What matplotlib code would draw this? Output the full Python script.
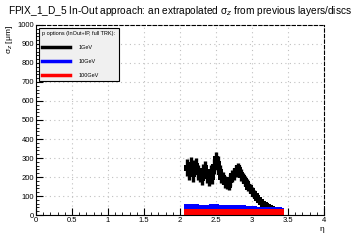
import numpy as np
import matplotlib.pyplot as plt
from matplotlib.ticker import MultipleLocator
from matplotlib.lines import Line2D

plt.rcParams['font.family'] = ['Liberation Sans', 'DejaVu Sans']

# eta bins
eta = [2.1 + 0.025 * i for i in range(53)]

# sigma_z valori (um)
sig_1gev = [250, 230, 265, 215, 245, 260, 225, 210, 195, 230,
            245, 205, 190, 225, 200, 255, 295, 270, 225, 200,
            195, 175, 165, 160, 185, 205, 215, 230, 245, 235,
            210, 195, 180, 165, 150, 140, 125, 110, 98, 88,
            78, 68, 60, 52, 45, 40, 35, 30, 27, 25,
            22, 21, 20]
err_1gev = [45, 45, 42, 42, 42, 40, 40, 38, 36, 38,
            38, 36, 36, 36, 36, 38, 36, 38, 36, 34,
            34, 32, 30, 30, 32, 32, 32, 32, 30, 30,
            30, 28, 26, 26, 24, 24, 22, 20, 18, 16,
            15, 13, 12, 11, 10, 9, 8, 7, 6, 5,
            5, 4, 4]
sig_10gev = [40, 42, 42, 41, 40, 40, 39, 38, 38, 38,
             38, 37, 38, 39, 40, 42, 40, 38, 37, 36,
             35, 35, 34, 34, 35, 36, 37, 38, 37, 36,
             35, 35, 34, 33, 32, 31, 30, 30, 29, 29,
             28, 28, 27, 27, 26, 26, 25, 25, 25, 24,
             24, 24, 23]
err_10gev = [9, 9, 9, 9, 8, 8, 8, 8, 8, 8,
             8, 8, 8, 8, 8, 8, 8, 8, 7, 7,
             7, 7, 7, 7, 7, 7, 7, 7, 7, 7,
             7, 6, 6, 6, 6, 6, 6, 6, 6, 6,
             6, 6, 6, 6, 6, 6, 6, 6, 6, 6,
             6, 6, 6]
sig_100gev = [18, 18, 18, 18, 18, 18, 18, 18, 18, 18,
              18, 18, 18, 18, 18, 18, 18, 18, 18, 18,
              18, 18, 18, 18, 18, 18, 18, 18, 18, 18,
              18, 17, 17, 17, 17, 17, 17, 17, 17, 17,
              17, 17, 17, 17, 17, 17, 17, 17, 17, 17,
              16, 16, 16]
err_100gev = [12, 12, 12, 12, 12, 12, 12, 12, 12, 12,
              11, 11, 11, 11, 11, 11, 11, 11, 11, 11,
              11, 11, 11, 11, 11, 11, 11, 11, 11, 11,
              11, 11, 11, 11, 11, 11, 11, 11, 11, 11,
              11, 11, 11, 11, 11, 11, 11, 11, 11, 11,
              11, 11, 11]

labels = ['1GeV', '10GeV', '100GeV']
colori = ['black', 'blue', 'red']

fig = plt.figure(figsize=(3.6, 2.4), dpi=100)
ax = fig.add_axes([0.1, 0.104, 0.8, 0.792])

serie = [(sig_1gev, err_1gev), (sig_10gev, err_10gev), (sig_100gev, err_100gev)]
for (s, e), c in zip(serie, colori):
    ax.errorbar(eta, s, yerr=e, xerr=0.0125, fmt='s', color=c, ms=4,
                elinewidth=2.4, capsize=0, mew=0)

ax.set_xlim(0, 4)
ax.set_ylim(0, 1000)
ax.xaxis.set_major_locator(MultipleLocator(0.5))
ax.xaxis.set_minor_locator(MultipleLocator(0.1))
ax.yaxis.set_major_locator(MultipleLocator(100))
ax.yaxis.set_minor_locator(MultipleLocator(20))
ax.tick_params(which='both', direction='in', labelsize=5.5, top=False, right=False, pad=1.5)
ax.tick_params(which='major', length=5)
ax.tick_params(which='minor', length=2.5)
ax.set_xticks(np.arange(0, 4.01, 0.5))
ax.set_xticklabels(['0', '0.5', '1', '1.5', '2', '2.5', '3', '3.5', '4'])
ax.grid(True, which='major', color='#c0c0c0', linestyle=(0, (1, 3)), linewidth=0.8)
ax.set_axisbelow(True)
for lato in ['top', 'right']:
    ax.spines[lato].set_linestyle((0, (3, 2)))
for sp in ax.spines.values():
    sp.set_linewidth(0.8)

ax.set_xlabel('η', fontsize=6, loc='right', labelpad=1)
ax.set_ylabel('σ$_{z}$ [μm]', fontsize=6, loc='top', labelpad=2)

fig.text(0.5, 0.955, 'FPIX_1_D_5 In-Out approach: an extrapolated σ$_{z}$ from previous layers/discs',
         ha='center', va='center', fontsize=7.3)

# legenda
maniglie = [Line2D([0], [0], color=c, lw=2.5) for c in colori]
leg = ax.legend(maniglie, labels, loc='upper left', bbox_to_anchor=(0.005, 0.995),
                title='p options (InOut+IP, full TRK):', title_fontsize=4, fontsize=4,
                frameon=True, fancybox=False, edgecolor='black', facecolor='#f0f0f0',
                framealpha=1, handlelength=5, labelspacing=1.6, borderpad=0.6,
                handletextpad=1.5, borderaxespad=0.3)
leg._legend_box.align = 'left'
leg.get_frame().set_linewidth(0.8)

fig.savefig('out.png', dpi=100)
